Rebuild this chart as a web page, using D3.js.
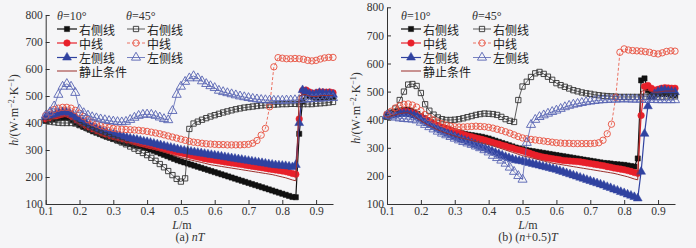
<!DOCTYPE html>
<html>
<head>
<meta charset="utf-8">
<script src="https://cdn.jsdelivr.net/npm/d3@7"></script>
<style>
  body { margin: 0; background: #f5f5f7; }
  svg { display: block; }
</style>
</head>
<body>
<div id="chart"></div>
<script>
// x grids (L/m)
const xFill = [0.10,0.11,0.12,0.13,0.14,0.15,0.16,0.17,0.18,0.19,
  0.20,0.21,0.22,0.23,0.24,0.25,0.26,0.27,0.28,0.29,
  0.30,0.31,0.32,0.33,0.34,0.35,0.36,0.37,0.38,0.39,
  0.40,0.41,0.42,0.43,0.44,0.45,0.46,0.47,0.48,0.49,
  0.50,0.51,0.52,0.53,0.54,0.55,0.56,0.57,0.58,0.59,
  0.60,0.61,0.62,0.63,0.64,0.65,0.66,0.67,0.68,0.69,
  0.70,0.71,0.72,0.73,0.74,0.75,0.76,0.77,0.78,0.79,
  0.80,0.81,0.82,0.83,0.84,0.85,0.86,0.87,0.88,0.89,
  0.90,0.91,0.92,0.93,0.94,0.95];
const xHollow = [0.1,0.1125,0.125,0.1375,0.15,0.1625,0.175,0.1875,
  0.2,0.2125,0.225,0.2375,0.25,0.2625,0.275,0.2875,
  0.3,0.3125,0.325,0.3375,0.35,0.3625,0.375,0.3875,
  0.4,0.4125,0.425,0.4375,0.45,0.4625,0.475,0.4875,
  0.5,0.5125,0.525,0.5375,0.55,0.5625,0.575,0.5875,
  0.6,0.6125,0.625,0.6375,0.65,0.6625,0.675,0.6875,
  0.7,0.7125,0.725,0.7375,0.75,0.7625,0.775,0.7875,
  0.8,0.8125,0.825,0.8375,0.85,0.8625,0.875,0.8875,
  0.9,0.9125,0.925,0.9375,0.95];

const xTicks = [0.1,0.2,0.3,0.4,0.5,0.6,0.7,0.8,0.9];
const yTicks = [100,200,300,400,500,600,700,800];

// static condition (same in both panels)
const hStatic = [408,411,415,419,422,424,425,421,413,404,
  396,389,382,376,370,364,359,354,350,346,
  342,338,335,332,329,326,323,320,317,314,
  311,308,304,300,296,292,288,284,280,276,
  272,269,266,263,260,257,254,251,248,245,
  243,241,239,237,235,233,231,229,227,225,
  223,221,219,217,215,213,211,209,206,203,
  200,197,193,189,186,500,505,505,500,498,
  498,500,502,502,502,502];

// (a) nT, theta = 10 deg
const aRight10 = [410,412,414,416,418,420,421,418,410,400,
  393,387,381,375,369,364,359,354,349,345,
  341,337,333,329,325,322,319,316,313,310,
  306,302,297,292,287,282,277,272,267,262,
  258,254,250,246,242,238,234,230,226,222,
  218,214,210,206,202,198,194,190,186,182,
  178,174,170,166,162,158,154,150,146,142,
  138,134,130,126,125,360,480,512,500,496,
  494,494,495,496,497,498];
const aMid10 = [415,418,422,426,430,433,434,430,422,412,
  404,397,390,384,378,372,367,362,358,354,
  350,346,343,340,337,334,331,328,325,322,
  319,316,313,310,307,304,301,298,295,292,
  289,286,283,280,277,274,271,268,266,264,
  262,260,258,256,254,252,250,248,246,244,
  242,240,238,236,234,232,230,228,226,224,
  222,220,217,213,210,415,520,522,515,510,
  512,515,515,514,515,512];
const aLeft10 = [422,426,430,434,438,441,442,438,430,420,
  412,405,398,392,386,380,375,370,366,362,
  358,355,352,349,346,343,340,338,335,332,
  330,327,324,321,318,315,312,309,306,303,
  300,298,296,294,292,290,288,286,284,282,
  280,278,276,274,272,270,268,266,264,262,
  260,258,256,254,252,250,248,246,244,243,
  242,241,239,237,245,400,522,515,508,505,
  508,512,510,508,508,505];
// (a) nT, theta = 45 deg
const aRight45 = [408,405,403,401,400,400,400,398,
  392,386,380,374,368,361,354,348,
  341,335,328,321,313,305,297,289,
  281,271,260,248,236,222,207,193,
  183,195,378,398,405,412,418,424,
  429,434,439,443,447,451,454,457,
  459,461,463,465,466,467,468,469,
  470,470,471,471,470,470,470,470,
  472,473,474,476,478];
const aMid45 = [428,438,450,455,458,458,455,447,
  436,424,412,403,396,390,386,383,
  380,378,377,376,375,374,373,371,
  369,366,363,360,356,352,348,344,
  340,336,332,329,327,325,323,322,
  321,320,320,319,319,319,319,320,
  321,325,335,355,380,460,608,642,
  640,638,638,639,638,636,632,630,
  632,637,641,643,643];
const aLeft45 = [428,440,462,505,535,545,535,512,
  450,437,428,422,418,414,411,408,
  406,404,403,405,412,420,427,431,
  432,431,427,421,415,411,445,505,
  535,553,566,574,566,555,545,537,
  530,520,515,511,507,503,499,496,
  493,490,488,486,485,484,483,483,
  483,484,484,485,486,487,488,489,
  490,491,492,493,493];

// (b) (n+0.5)T, theta = 10 deg
const bRight10 = [418,422,426,430,433,435,435,432,426,420,
  413,405,398,391,385,380,375,370,366,362,
  358,355,352,349,347,345,343,341,339,336,
  333,329,325,321,317,313,309,305,301,298,
  295,292,290,288,286,284,282,280,278,276,
  274,272,270,268,266,264,262,260,258,256,
  254,252,250,248,246,245,244,242,241,240,
  239,237,235,233,262,540,547,505,492,488,
  490,492,492,490,488,487];
const bMid10 = [415,418,421,424,427,429,429,426,421,416,
  410,403,396,389,383,378,373,369,365,361,
  357,353,349,345,342,339,336,333,330,327,
  323,320,316,313,309,306,302,299,295,292,
  289,285,281,277,273,270,267,265,263,261,
  259,257,255,254,253,252,251,250,248,246,
  244,242,240,238,236,233,231,228,226,224,
  222,219,216,212,209,415,518,522,512,505,
  508,512,514,513,512,512];
const bLeft10 = [412,415,418,420,421,422,421,419,415,411,
  404,396,388,381,374,368,362,356,350,345,
  340,335,330,326,322,317,312,307,302,298,
  293,288,283,278,273,268,264,260,256,254,
  252,249,246,243,240,237,234,231,228,225,
  222,218,214,210,206,202,198,194,190,186,
  182,178,174,170,166,161,157,152,148,143,
  139,134,130,125,120,215,350,448,480,492,
  500,505,505,502,500,498];
// (b) (n+0.5)T, theta = 45 deg
const bRight45 = [410,425,440,470,500,525,527,520,
  495,455,432,418,408,402,399,399,
  400,402,405,409,413,417,420,422,
  421,420,417,410,402,396,392,470,
  518,535,552,565,570,563,553,542,
  530,523,517,511,505,501,497,494,
  492,489,487,485,484,483,482,481,
  481,481,481,481,481,482,482,482,
  482,482,483,483,483];
const bMid45 = [420,430,442,450,455,456,452,445,
  432,418,407,399,392,386,381,377,
  375,374,374,375,376,377,376,375,
  373,370,366,362,357,352,346,340,
  335,332,330,328,326,324,322,320,
  318,317,316,316,315,315,315,315,
  315,316,318,327,350,384,479,640,
  652,648,646,645,644,642,640,636,
  634,638,643,645,644];
const bLeft45 = [416,412,408,405,403,402,401,398,
  390,382,374,366,358,351,345,339,
  333,327,321,316,311,305,299,292,
  284,272,264,255,244,230,215,200,
  187,318,382,400,410,416,422,428,
  433,439,445,450,454,457,460,463,
  465,467,469,470,471,472,472,473,
  473,473,472,472,472,471,471,471,
  470,470,470,470,470];

const legendNames = ['右侧线', '中线', '左侧线'];

const W = 696, H = 248;
const serif = '"Liberation Serif", "DejaVu Serif", serif';
const cjk = '"Noto Sans CJK SC", sans-serif';

const svg = d3.select('#chart').append('svg')
  .attr('width', W).attr('height', H);

// marker / line styles for each series
const styles = [
  { sym: d3.symbolSquare, size: 27, color: '#111', filled: true, lw: 1.2 },
  { sym: d3.symbolCircle, size: 34, color: '#e8202a', filled: true, lw: 1.2 },
  { sym: d3.symbolTriangle, size: 34, color: '#3042a0', filled: true, lw: 1.2 },
  { sym: d3.symbolSquare, size: 28, color: '#333', filled: false, lw: 0.8 },
  { sym: d3.symbolCircle, size: 32, color: '#e8503e', filled: false, lw: 0.8, dash: '3,2' },
  { sym: d3.symbolTriangle, size: 36, color: '#5763b2', filled: false, lw: 0.8 }
];
const staticColor = '#9b2f2b';

function drawPanel(p) {
  const x = d3.scaleLinear().domain([0.1, 0.95]).range([p.left, p.right]);
  const y = d3.scaleLinear().domain([100, 800]).range([204, p.top]);
  const g = svg.append('g');

  const xAxis = g.append('g').attr('transform', 'translate(0,204)')
    .call(d3.axisBottom(x).tickValues(xTicks).tickSizeInner(-4).tickSizeOuter(0)
      .tickPadding(3).tickFormat(d3.format('.1f')));
  const yAxis = g.append('g').attr('transform', `translate(${p.left},0)`)
    .call(d3.axisLeft(y).tickValues(yTicks).tickSizeInner(-4).tickSizeOuter(0)
      .tickPadding(3).tickFormat(d3.format('d')));
  [xAxis, yAxis].forEach(a => {
    a.selectAll('text').attr('font-family', serif).attr('font-size', 11.5).attr('fill', '#333');
    a.selectAll('line, path').attr('stroke', '#333');
  });

  // series: filled (on xFill), hollow (on xHollow)
  const series = [
    { xs: xFill, ys: p.r10, st: styles[0] },
    { xs: xFill, ys: p.m10, st: styles[1] },
    { xs: xFill, ys: p.l10, st: styles[2] },
    { xs: xHollow, ys: p.r45, st: styles[3] },
    { xs: xHollow, ys: p.m45, st: styles[4] },
    { xs: xHollow, ys: p.l45, st: styles[5] }
  ];
  const line = d3.line().x(d => x(d[0])).y(d => y(d[1]));

  series.forEach(s => {
    const pts = s.xs.map((v, i) => [v, s.ys[i]]);
    g.append('path').datum(pts)
      .attr('d', line)
      .attr('fill', 'none')
      .attr('stroke', s.st.color)
      .attr('stroke-width', s.st.lw)
      .attr('stroke-dasharray', s.st.dash || null);
    g.selectAll(null).data(pts).enter().append('path')
      .attr('d', d3.symbol().type(s.st.sym).size(s.st.size))
      .attr('transform', d => `translate(${x(d[0])},${y(d[1])})`)
      .attr('fill', s.st.filled ? s.st.color : 'none')
      .attr('stroke', s.st.color)
      .attr('stroke-width', s.st.filled ? 0.5 : 0.9);
  });

  // static condition line on top
  g.append('path').datum(xFill.map((v, i) => [v, hStatic[i]]))
    .attr('d', line)
    .attr('fill', 'none')
    .attr('stroke', staticColor)
    .attr('stroke-width', 1);

  // axis titles
  const yl = g.append('text')
    .attr('transform', `translate(${p.ylabX},${p.ylabY}) rotate(-90)`)
    .attr('text-anchor', 'middle')
    .attr('font-family', serif).attr('font-size', 12).attr('fill', '#333');
  yl.append('tspan').attr('font-style', 'italic').text('h');
  yl.append('tspan').text('/(W·m');
  yl.append('tspan').attr('font-size', 8).attr('dy', -4).text('−2');
  yl.append('tspan').attr('dy', 4).text('·K');
  yl.append('tspan').attr('font-size', 8).attr('dy', -4).text('−1');
  yl.append('tspan').attr('dy', 4).text(')');

  const xl = g.append('text')
    .attr('x', p.xlabX).attr('y', 229)
    .attr('text-anchor', 'middle')
    .attr('font-family', serif).attr('font-size', 12).attr('fill', '#333');
  xl.append('tspan').attr('font-style', 'italic').text('L');
  xl.append('tspan').text('/m');

  const cap = g.append('text')
    .attr('x', p.capX).attr('y', 241)
    .attr('text-anchor', 'middle')
    .attr('font-family', serif).attr('font-size', 12).attr('fill', '#333');
  p.caption.forEach(c => cap.append('tspan').attr('font-style', c[1] ? 'italic' : 'normal').text(c[0]));

  // legend
  const thetas = [['10°', p.leg1], ['45°', p.leg2]];
  thetas.forEach(t => {
    const tt = g.append('text').attr('x', t[1]).attr('y', 20)
      .attr('font-family', serif).attr('font-size', 12).attr('fill', '#333');
    tt.append('tspan').attr('font-style', 'italic').text('θ');
    tt.append('tspan').text('=' + t[0]);
  });
  const rowsY = [29, 43, 57.5];
  styles.forEach((st, i) => {
    const col = i < 3 ? 0 : 1;
    const x0 = col === 0 ? p.leg1 : p.leg2 + 1;
    const len = col === 0 ? 20 : 18;
    const ry = rowsY[i % 3];
    g.append('line').attr('x1', x0).attr('x2', x0 + len).attr('y1', ry).attr('y2', ry)
      .attr('stroke', st.color).attr('stroke-width', st.lw)
      .attr('stroke-dasharray', st.dash || null);
    g.append('path')
      .attr('d', d3.symbol().type(st.sym).size(st.size))
      .attr('transform', `translate(${x0 + len / 2},${ry})`)
      .attr('fill', st.filled ? st.color : 'none')
      .attr('stroke', st.color)
      .attr('stroke-width', st.filled ? 0.5 : 0.9);
    g.append('text').attr('x', x0 + len + 2).attr('y', ry)
      .attr('dominant-baseline', 'central')
      .attr('font-family', cjk).attr('font-size', 12).attr('fill', '#222')
      .text(legendNames[i % 3]);
  });
  g.append('line').attr('x1', p.leg1).attr('x2', p.leg1 + 20).attr('y1', 71).attr('y2', 71)
    .attr('stroke', staticColor).attr('stroke-width', 1);
  g.append('text').attr('x', p.leg1 + 22).attr('y', 71)
    .attr('dominant-baseline', 'central')
    .attr('font-family', cjk).attr('font-size', 12).attr('fill', '#222')
    .text('静止条件');
}

drawPanel({
  left: 45.7, right: 333, top: 15,
  r10: aRight10, m10: aMid10, l10: aLeft10,
  r45: aRight45, m45: aMid45, l45: aLeft45,
  ylabX: 18, ylabY: 110, xlabX: 182, capX: 190,
  caption: [['(a) ', false], ['nT', true]],
  leg1: 57, leg2: 126
});
drawPanel({
  left: 387, right: 675, top: 7.3,
  r10: bRight10, m10: bMid10, l10: bLeft10,
  r45: bRight45, m45: bMid45, l45: bLeft45,
  ylabX: 360, ylabY: 108, xlabX: 528, capX: 528,
  caption: [['(b) (', false], ['n', true], ['+0.5)', false], ['T', true]],
  leg1: 401, leg2: 472
});
</script>
</body>
</html>
